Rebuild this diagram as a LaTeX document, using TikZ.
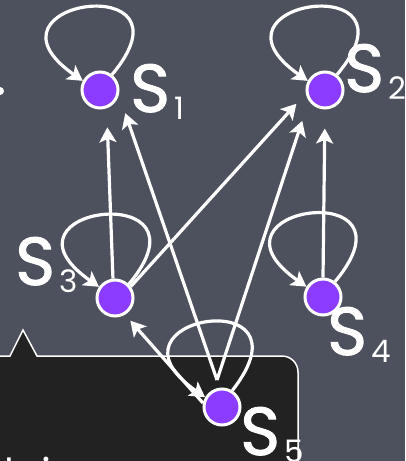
\documentclass[tikz,border=0pt]{standalone}
\usepackage{fontspec}
\setmainfont{Poppins}
\newfontfamily\labfont{Poppins}[FakeBold=1.3]
\usetikzlibrary{arrows.meta,calc}
\definecolor{bg}{HTML}{4D515D}
\definecolor{nodefill}{HTML}{8C3CFF}
\definecolor{boxfill}{HTML}{222222}
\newcommand{\slab}[1]{{\labfont\fontsize{68}{68}\selectfont S}\hspace{4pt}\raisebox{-7pt}{\fontsize{31}{31}\selectfont #1}}
\begin{document}
\begin{tikzpicture}[x=1pt,y=-1pt,
  st/.style={circle,fill=nodefill,draw=white,line width=3pt,minimum size=36pt,inner sep=0pt},
  edge/.style={draw=white,line width=3.2pt,-{Stealth[length=15pt,width=17pt,inset=3.5pt]}},
  lab/.style={text=white,anchor=base west,inner sep=0pt}]
\useasboundingbox (0,0) rectangle (405,461);
\clip (0,0) rectangle (405,461);
\fill[bg] (0,0) rectangle (405,461);
\fill[white] (0,91) circle (4pt);
% callout box
\draw[draw=white,line width=1.5pt,fill=boxfill]
  (-20,356) -- (10,356) -- (23,330) -- (37,356) -- (282,356)
  arc[start angle=90,end angle=0,radius=16pt] -- (298,490) -- (-20,490) -- cycle;
\node[lab,font=\fontsize{40}{40}\selectfont] (txt) at (4,487) {lai};
% states
\node[st] (s1) at (100,90) {};
\node[st] (s2) at (325,90) {};
\node[st] (s3) at (115,298) {};
\node[st] (s4) at (323,297) {};
\node[st] (s5) at (222,407) {};
% labels
\node[lab] (l1) at (130,112) {\slab{1}};
\node[lab] (l2) at (344,92) {\slab{2}};
\node[lab] (l3) at (15,285) {\slab{3}};
\node[lab] (l4) at (327,355) {\slab{4}};
\node[lab] (l5) at (240,455) {\slab{5}};
% self loops
\draw[edge] (s1.52) .. controls +(50:140pt) and +(145:140pt) .. (s1.152);
\draw[edge] (s2.52) .. controls +(50:140pt) and +(145:140pt) .. (s2.152);
\draw[edge] (s3.45) .. controls +(50:140pt) and +(145:140pt) .. (s3.145);
\draw[edge] (s4.52) .. controls +(50:140pt) and +(145:140pt) .. (s4.148);
\draw[edge] (s5.58) .. controls +(52:140pt) and +(145:140pt) .. (s5.150);
% transitions
\coordinate (s5t) at ($(s5)+(-5,-27)$);
\draw[edge,shorten >=19pt] (s3.96) -- (s1.-70);
\draw[edge,shorten >=19.5pt] (s5t) -- (s1.-14);
\draw[edge,shorten >=14pt] (s3.36) -- (s2.190);
\draw[edge,shorten >=21pt] (s5t) -- (s2.214);
\draw[edge,shorten >=19pt] (s4.north) -- (s2.south);
\draw[edge,shorten >=8pt] (s5.168) -- (s3.-59);
\end{tikzpicture}
\end{document}
